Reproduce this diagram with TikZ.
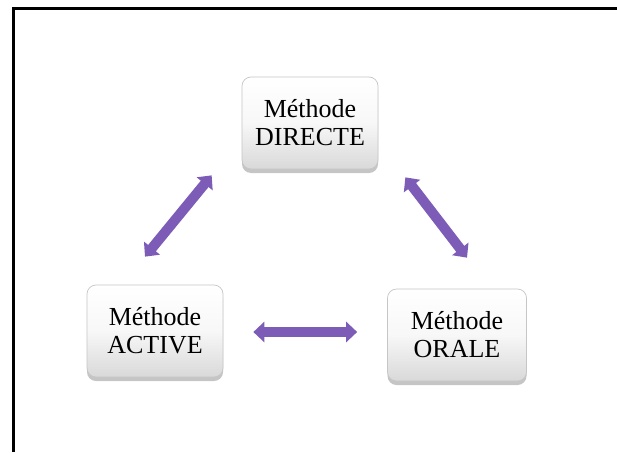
\documentclass[tikz,border=0pt]{standalone}
\usepackage{fontspec}
\setmainfont{Liberation Serif}
\usetikzlibrary{arrows.meta,shadows,calc}
\definecolor{arrowpurple}{RGB}{124,92,182}
\tikzset{
  methodbox/.style={rounded corners=9pt, minimum width=136pt, minimum height=92pt,
    top color=white, bottom color=gray!30, middle color=gray!6,
    draw=gray!45, line width=0.7pt,
    drop shadow={shadow xshift=0pt, shadow yshift=-4pt, opacity=0.45, fill=gray},
    align=center, font=\fontsize{26}{28}\selectfont, inner sep=0pt},
  dblarrow/.style={line width=10pt, draw=arrowpurple,
    {Triangle[width=20pt,length=11pt]}-{Triangle[width=20pt,length=11pt]}},
  framelines/.style={line width=3pt, draw=black}
}
\begin{document}
\begin{tikzpicture}[x=1pt,y=-1pt]
\useasboundingbox (0,0) rectangle (617,452);
\fill[white] (0,0) rectangle (617,452);
\draw[framelines] (13.5,452) -- (13.5,8.5) -- (617,8.5);
\node[methodbox] (dir) at (310,123) {Méthode\\DIRECTE};
\node[methodbox] (act) at (155,331) {Méthode\\ACTIVE};
\node[methodbox, minimum width=139pt] (ora) at (457,335) {Méthode\\ORALE};
\draw[dblarrow] ($(act.north)+(-10,-28)$) -- ($(dir.south west)+(-30,6)$);
\draw[dblarrow] ($(dir.south east)+(27,8)$) -- ($(ora.north)+(10,-31)$);
\draw[dblarrow] ($(act.east)+(30,1)$) -- ($(ora.west)+(-30,-3)$);
\end{tikzpicture}
\end{document}
